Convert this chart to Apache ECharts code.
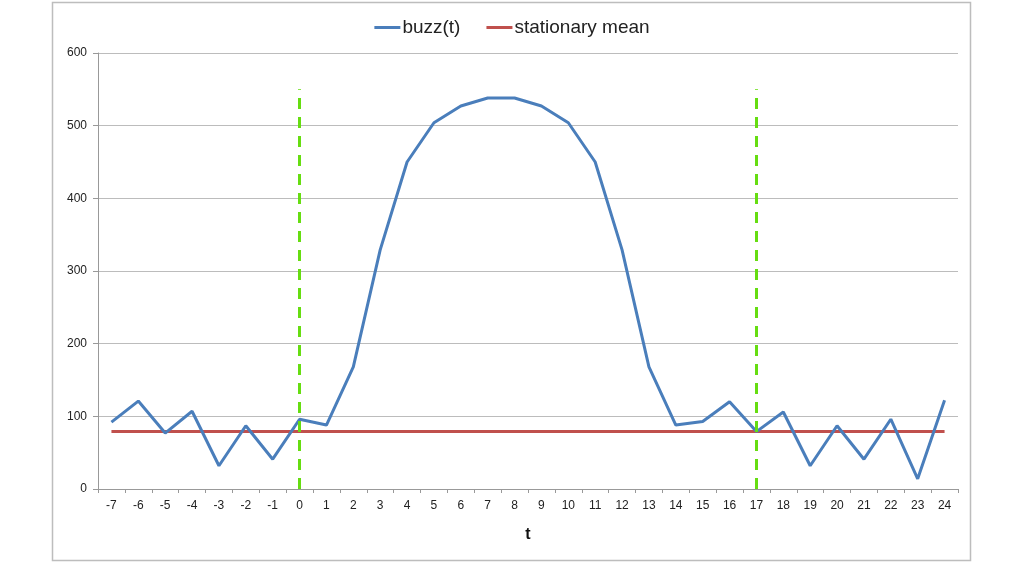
<!DOCTYPE html>
<html>
<head>
<meta charset="utf-8">
<script src="https://cdn.jsdelivr.net/npm/echarts@6/dist/echarts.min.js"></script>
<style>html,body{margin:0;padding:0;background:#fff;}#chart{width:1024px;height:563px;}</style>
</head>
<body>
<div id="chart"></div>
<script>
const categories = ['-7','-6','-5','-4','-3','-2','-1','0','1','2','3','4','5','6','7','8','9','10','11','12','13','14','15','16','17','18','19','20','21','22','23','24'];
const buzz = [92,121,77,107,32,87,41,96,88,168,329,450,504,527,538,538,527,504,450,329,168,88,93,120,79,106,32,87,41,96,14,122];
const stationaryMean = 79;
const markerTimes = ['0','17'];
const markerTop = 550;
const yTicks = [0,100,200,300,400,500,600];

const meanData = categories.map(() => stationaryMean);

const chart = echarts.init(document.getElementById('chart'));
chart.setOption({
  animation: false,
  backgroundColor: '#fff',
  graphic: [{
    type: 'rect', silent: true,
    shape: {x: 52.5, y: 2.5, width: 918, height: 558},
    style: {fill: 'none', stroke: '#bdbdbd', lineWidth: 1.5}
  }],
  legend: {
    top: 13, left: 'center',
    itemWidth: 26, itemHeight: 3, itemGap: 26,
    icon: 'rect',
    textStyle: {fontFamily: 'Liberation Sans, Arial', fontSize: 19, color: '#222', padding: [0,0,0,-3]},
    data: ['buzz(t)', 'stationary mean']
  },
  grid: {left: 98, right: 66, top: 53, bottom: 74, containLabel: false},
  xAxis: {
    type: 'category', data: categories, boundaryGap: true,
    name: 't', nameLocation: 'middle', nameGap: 38,
    nameTextStyle: {fontFamily: 'Liberation Sans, Arial', fontSize: 16, fontWeight: 'bold', color: '#111'},
    axisLine: {lineStyle: {color: '#999', width: 1}},
    axisTick: {show: true, alignWithLabel: false, length: 4, lineStyle: {color: '#999'}},
    axisLabel: {fontFamily: 'Liberation Sans, Arial', fontSize: 12, color: '#222', margin: 11},
    splitLine: {show: false}
  },
  yAxis: {
    type: 'value', min: 0, max: 600, interval: 100,
    axisLine: {show: true, lineStyle: {color: '#999'}},
    axisTick: {show: true, length: 5, lineStyle: {color: '#999'}},
    axisLabel: {fontFamily: 'Liberation Sans, Arial', fontSize: 12, color: '#222', margin: 11},
    splitLine: {lineStyle: {color: '#bcbcbc', width: 1}}
  },
  series: [
    {
      name: 'buzz(t)', type: 'line', data: buzz,
      symbol: 'none', color: '#4a7ebb',
      lineStyle: {width: 3, color: '#4a7ebb'}, z: 3
    },
    {
      name: 'stationary mean', type: 'line', data: meanData,
      symbol: 'none', color: '#c0504d',
      lineStyle: {width: 3, color: '#c0504d'}, z: 2
    },
    {
      name: 'markers', type: 'line', data: [], z: 4,
      markLine: {
        silent: true, symbol: 'none', label: {show: false},
        lineStyle: {color: '#66dd11', width: 3, type: [11, 8]},
        data: markerTimes.map(t => [{coord: [t, 0]}, {coord: [t, markerTop]}])
      }
    }
  ]
});
</script>
</body>
</html>
